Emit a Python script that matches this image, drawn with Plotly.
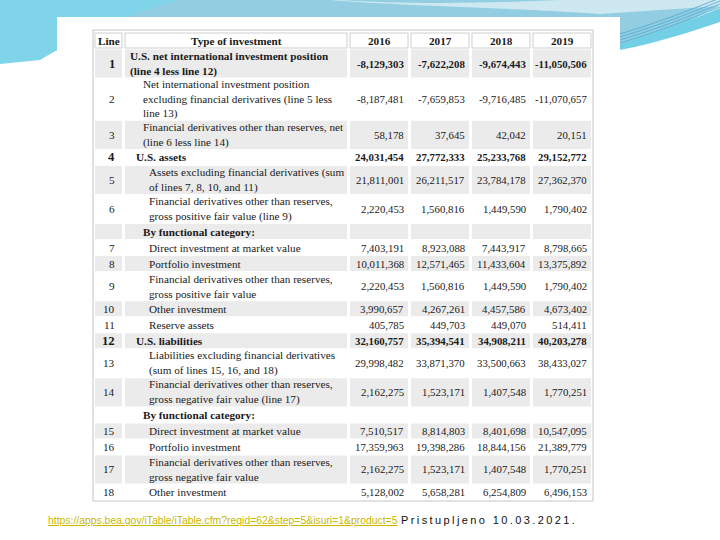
import plotly.graph_objects as go

# --- table data -------------------------------------------------------------
years = ["2016", "2017", "2018", "2019"]

line_no = ["1", "2", "3", "4", "5", "6", "", "7", "8", "9", "10", "11", "12",
           "13", "14", "", "15", "16", "17", "18"]

labels = [
    "U.S. net international investment position<br>(line 4 less line 12)",
    "Net international investment position<br>excluding financial derivatives (line 5 less<br>line 13)",
    "Financial derivatives other than reserves, net<br>(line 6 less line 14)",
    "U.S. assets",
    "Assets excluding financial derivatives (sum<br>of lines 7, 8, 10, and 11)",
    "Financial derivatives other than reserves,<br>gross positive fair value (line 9)",
    "By functional category:",
    "Direct investment at market value",
    "Portfolio investment",
    "Financial derivatives other than reserves,<br>gross positive fair value",
    "Other investment",
    "Reserve assets",
    "U.S. liabilities",
    "Liabilities excluding financial derivatives<br>(sum of lines 15, 16, and 18)",
    "Financial derivatives other than reserves,<br>gross negative fair value (line 17)",
    "By functional category:",
    "Direct investment at market value",
    "Portfolio investment",
    "Financial derivatives other than reserves,<br>gross negative fair value",
    "Other investment",
]

indent = [0, 2, 2, 1, 3, 3, 2, 3, 3, 3, 3, 3, 1, 3, 3, 2, 3, 3, 3, 3]
bold_rows = [0, 3, 6, 12, 15]

v2016 = [-8129303, -8187481, 58178, 24031454, 21811001, 2220453, None, 7403191,
         10011368, 2220453, 3990657, 405785, 32160757, 29998482, 2162275, None,
         7510517, 17359963, 2162275, 5128002]
v2017 = [-7622208, -7659853, 37645, 27772333, 26211517, 1560816, None, 8923088,
         12571465, 1560816, 4267261, 449703, 35394541, 33871370, 1523171, None,
         8814803, 19398286, 1523171, 5658281]
v2018 = [-9674443, -9716485, 42042, 25233768, 23784178, 1449590, None, 7443917,
         11433604, 1449590, 4457586, 449070, 34908211, 33500663, 1407548, None,
         8401698, 18844156, 1407548, 6254809]
v2019 = [-11050506, -11070657, 20151, 29152772, 27362370, 1790402, None, 8798665,
         13375892, 1790402, 4673402, 514411, 40203278, 38433027, 1770251, None,
         10547095, 21389779, 1770251, 6496153]

source_url = "https://apps.bea.gov/iTable/iTable.cfm?reqid=62&step=5&isuri=1&product=5"
source_note = "Pristupljeno 10.03.2021."

# --- layout constants (pixels, axis = page) ---------------------------------
W, H = 720, 540
SERIF = "Liberation Serif"
FS = 11.2      # description text
FS_NUM = 10.8  # number columns
INK = "#1a1a1a"
GRAY = "#ebebeb"
col_x0 = 95
col_w = [27, 222, 58, 58, 58, 58]
gap = 3
head_top, head_bot = 33, 48
row_top0 = 49
row_base, row_line = 2.9, 13.1

edges = []
x = col_x0
for w in col_w:
    edges.append((x, x + w))
    x += w + gap

shapes = []
ann = []

# slide background decoration
shapes.append(dict(type="path", layer="below", line_width=0, fillcolor="#93cde2",
                   path="M0,0 L720,0 L720,6 C690,20 660,36 615,50 L60,50 "
                        "C40,54 20,58 0,62 Z"))
shapes.append(dict(type="path", layer="below", line_width=0, fillcolor="#7fd4ea",
                   path="M0,0 L180,0 C140,10 90,30 40,60 L0,64 Z"))
shapes.append(dict(type="path", layer="below", line_width=0, fillcolor="rgba(255,255,255,0.55)",
                   path="M230,0 L330,0 C400,6 520,8 600,14 L720,6 L720,0 L560,0 "
                        "C470,4 400,4 340,0 Z"))
shapes.append(dict(type="path", layer="below", line_width=0, fillcolor="#72cfe6",
                   path="M600,50 C650,36 690,20 720,8 L720,22 C690,32 660,42 620,50 Z"))
for k in range(4):
    shapes.append(dict(type="path", layer="below", line=dict(color="#4aa9cf", width=0.8),
                       path="M612,%d C650,%d 690,%d 720,%d" % (36 + k * 3, 26 + k * 3,
                                                              10 + k * 3, -2 + k * 3)))
# white screenshot panel
shapes.append(dict(type="rect", layer="below", x0=57, x1=620, y0=17, y1=509,
                   line_width=0, fillcolor="white"))

# table outer border
shapes.append(dict(type="rect", layer="below", x0=93, x1=593, y0=30, y1=501,
                   line=dict(color="#c4c4c4", width=1), fillcolor="white"))

# header
headers = ["Line", "Type of investment"] + years
for (a, b), txt in zip(edges, headers):
    shapes.append(dict(type="rect", layer="below", x0=a, x1=b, y0=head_top, y1=head_bot,
                       line=dict(color="#cfcfcf", width=1), fillcolor="white"))
    ann.append(dict(x=(a + b) / 2, y=(head_top + head_bot) / 2 + 0.5, text="<b>%s</b>" % txt,
                    xanchor="center", yanchor="middle", showarrow=False,
                    font=dict(family=SERIF, size=FS, color=INK)))

# body rows
values = [v2016, v2017, v2018, v2019]
y = row_top0
for i, lab in enumerate(labels):
    n = lab.count("<br>") + 1
    h = row_base + row_line * n
    y0, y1 = y, y + h
    yc = (y0 + y1) / 2
    bold = i in bold_rows
    fill = GRAY if i % 2 == 0 else "white"
    for a, b in edges:
        shapes.append(dict(type="rect", layer="below", x0=a, x1=b, y0=y0 + 0.5, y1=y1 - 0.5,
                           line_width=0, fillcolor=fill))
    wrap = (lambda s: "<b>%s</b>" % s) if bold else (lambda s: s)
    ann.append(dict(x=edges[0][1] - 5, y=yc, text=wrap(line_no[i]), xanchor="right",
                    yanchor="middle", showarrow=False,
                    font=dict(family=SERIF, size=FS + (1.5 if bold else 0), color=INK)))
    if bold:
        txt = "<br>".join("<b>%s</b>" % part for part in lab.split("<br>"))
    else:
        txt = lab
    ann.append(dict(x=edges[1][0] + 3 + 6.3 * indent[i], y=yc, text=txt, xanchor="left",
                    yanchor="middle", align="left", showarrow=False,
                    font=dict(family=SERIF, size=FS, color=INK)))
    for (a, b), col in zip(edges[2:], values):
        v = col[i]
        if v is None:
            continue
        ann.append(dict(x=b - 2, y=yc, text=wrap("{:,}".format(v)), xanchor="right",
                        yanchor="middle", showarrow=False,
                        font=dict(family=SERIF, size=FS_NUM, color=INK)))
    y = y1

# source line
ann.append(dict(x=46, y=520, xanchor="left", yanchor="middle", showarrow=False,
                text='<span style="text-decoration:underline">%s</span>' % source_url,
                font=dict(family="Liberation Sans", size=10.4, color="#c9b700")))
ann.append(dict(x=399, y=520, xanchor="left", yanchor="middle", showarrow=False,
                text='<span style="letter-spacing:2.4px">%s</span>' % source_note,
                font=dict(family="Liberation Sans", size=11, color="#111")))

fig = go.Figure()
fig.update_layout(
    width=W, height=H,
    margin=dict(l=0, r=0, t=0, b=0),
    paper_bgcolor="white", plot_bgcolor="white",
    xaxis=dict(range=[0, W], visible=False, fixedrange=True),
    yaxis=dict(range=[H, 0], visible=False, fixedrange=True),
    shapes=shapes, annotations=ann, showlegend=False,
)
# drop the default 8px page margin so the figure fills the window
fig.write_html("out.html", config={"displayModeBar": False},
               post_script="document.body.style.margin='0';")
